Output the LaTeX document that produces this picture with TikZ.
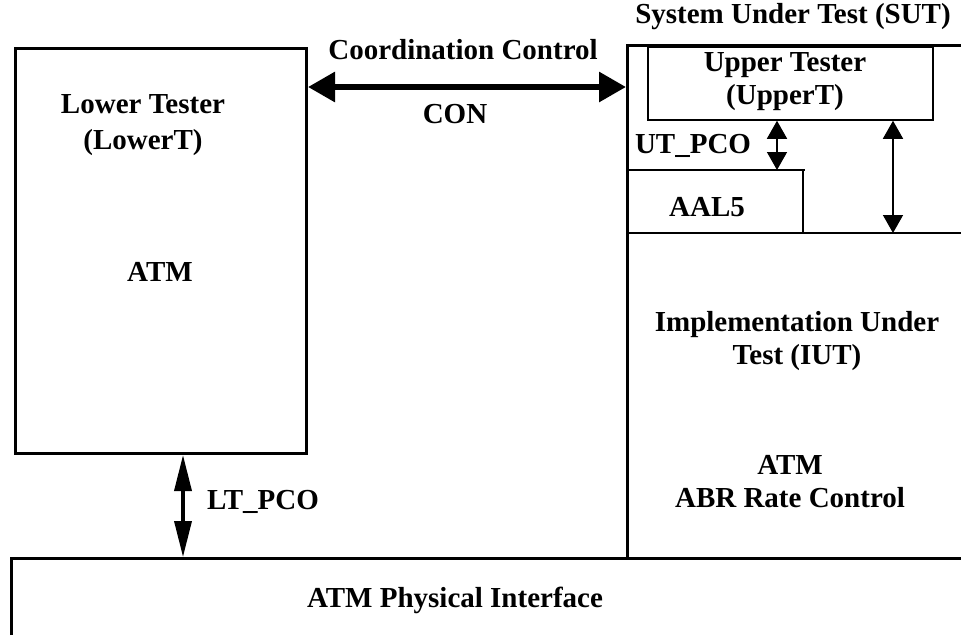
\documentclass[tikz,border=0pt]{standalone}
\usepackage{fontspec}
\setmainfont{Liberation Serif}
\usetikzlibrary{arrows.meta}
\begin{document}
\begin{tikzpicture}[x=1pt,y=-1pt,
  lbl/.style={font=\fontsize{29}{33}\selectfont\bfseries, align=center, inner sep=0pt},
  heavy/.style={line width=3pt},
  medium/.style={line width=2pt},
  light/.style={line width=1.5pt},
  conarrow/.style={line width=6pt, {Triangle[length=27pt,width=29pt]}-{Triangle[length=27pt,width=29pt]}},
  ltarrow/.style={line width=3.5pt, {Triangle[length=36pt,width=17pt]}-{Triangle[length=36pt,width=17pt]}},
  utarrow/.style={line width=1.5pt, {Triangle[length=18pt,width=20pt]}-{Triangle[length=18pt,width=20pt]}}]
\useasboundingbox (0,0) rectangle (961,635);

% Lower tester box
\node[draw, heavy, minimum width=291pt, minimum height=405pt, inner sep=0pt] (lt) at (161,251) {};
\node[lbl, font=\fontsize{29}{36}\selectfont\bfseries] (ltname) at (143,125) {Lower Tester\\(LowerT)};
\node[lbl] (ltatm) at (160,272) {ATM};

% SUT outline and physical interface
\coordinate (sutbl) at (627,558);
\coordinate (suttl) at (627,45);
\coordinate (suttr) at (961,45);
\draw[heavy] (sutbl) -- (suttl) -- (suttr);
\coordinate (phl) at (11,635);
\coordinate (phtl) at (11,558);
\coordinate (phtr) at (961,558);
\draw[heavy] (phl) -- (phtl) -- (phtr);
\node[lbl] (sut) at (793,17) {System Under Test (SUT)};

% Upper tester
\node[draw, light, minimum width=285pt, minimum height=73pt, inner sep=0pt] (ut) at (790.5,83.5) {};
\node[lbl] (utname) at (785,82) {Upper Tester\\(UpperT)};

% AAL5
\coordinate (aall) at (627,170);
\coordinate (aalr) at (805,170);
\coordinate (aalb) at (803,233);
\draw[light] (aall) -- (aalr);
\draw[light] (803,170) -- (aalb);
\node[lbl] (aal) at (707,207) {AAL5};
\coordinate (iutl) at (627,233);
\coordinate (iutr) at (961,233);
\draw[medium] (iutl) -- (iutr);

% Arrows
\coordinate (conl) at (lt.east |- 0,87);
\coordinate (conr) at (626,87);
\draw[conarrow] (conl) -- (conr);
\node[lbl] (coord) at (463,50) {Coordination Control};
\node[lbl] (con) at (455,114) {CON};

\coordinate (utpcob) at (777,170);
\draw[utarrow] (ut.south -| utpcob) -- (utpcob);
\node[lbl] (utpco) at (693,146) {UT\_PCO};
\coordinate (utiut) at (893,233);
\draw[utarrow] (ut.south -| utiut) -- (utiut);

\coordinate (ltpcob) at (183,557);
\draw[ltarrow] (lt.south -| ltpcob) -- (ltpcob);
\node[lbl] (ltpco) at (263,502) {LT\_PCO};

% IUT text
\node[lbl] (iut) at (797,341) {Implementation Under\\Test (IUT)};
\node[lbl] (abr) at (790,482) {ATM\\ABR Rate Control};

\node[lbl] (phys) at (455,600) {ATM Physical Interface};
\end{tikzpicture}
\end{document}
